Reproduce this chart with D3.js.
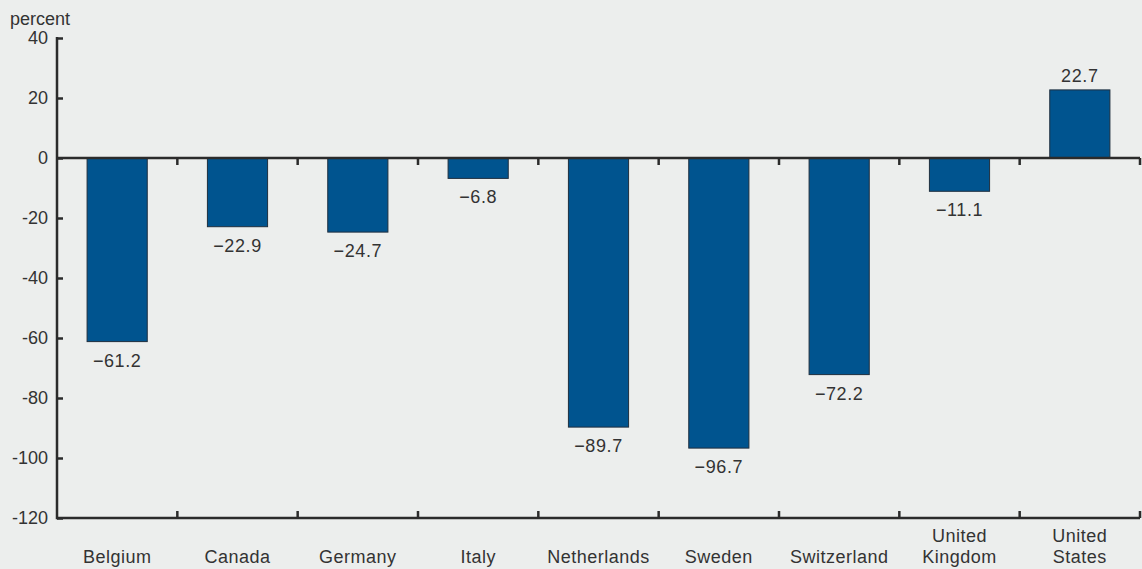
<!DOCTYPE html>
<html>
<head>
<meta charset="utf-8">
<script src="https://cdn.jsdelivr.net/npm/d3@7"></script>
<style>
  html, body { margin: 0; padding: 0; background: #eceeed; }
  svg { display: block; }
  text { font-family: "Liberation Sans", Arial, Helvetica, sans-serif; fill: #333333; }
</style>
</head>
<body>
<svg id="chart" width="1142" height="569"></svg>
<script>
// Change by country, percent
const countries = ["Belgium", "Canada", "Germany", "Italy", "Netherlands", "Sweden", "Switzerland", "United Kingdom", "United States"];
const countryLines = [["Belgium"], ["Canada"], ["Germany"], ["Italy"], ["Netherlands"], ["Sweden"], ["Switzerland"], ["United", "Kingdom"], ["United", "States"]];
const values = [-61.2, -22.9, -24.7, -6.8, -89.7, -96.7, -72.2, -11.1, 22.7];
const yTicks = [40, 20, 0, -20, -40, -60, -80, -100, -120];

const svg = d3.select("#chart");
const plotLeft = 57, plotRight = 1140, plotTop = 38, plotBottom = 518;

const x = d3.scaleBand().domain(countries).range([plotLeft, plotRight]).paddingInner(0).paddingOuter(0);
const y = d3.scaleLinear().domain([-120, 40]).range([plotBottom, plotTop]);
const barW = x.bandwidth() * 0.5;
const ink = "#2b2b2b";
const fontSize = 18;

// Bars
svg.append("g").selectAll("rect")
  .data(countries)
  .join("rect")
  .attr("x", (d) => x(d) + (x.bandwidth() - barW) / 2)
  .attr("width", barW)
  .attr("y", (d, i) => y(Math.max(0, values[i])))
  .attr("height", (d, i) => Math.abs(y(values[i]) - y(0)))
  .attr("fill", "#00548f")
  .attr("stroke", "#1f2f3f")
  .attr("stroke-width", 1);

// Value labels
const fmt = (v) => (v < 0 ? "\u2212" : "") + Math.abs(v).toFixed(1);
svg.append("g").selectAll("text")
  .data(countries)
  .join("text")
  .attr("x", (d) => x(d) + x.bandwidth() / 2)
  .attr("y", (d, i) => values[i] < 0 ? y(values[i]) + 25 : y(values[i]) - 8)
  .attr("text-anchor", "middle")
  .attr("font-size", fontSize)
  .attr("letter-spacing", 0.6)
  .text((d, i) => fmt(values[i]));

// Left axis
const yAxis = svg.append("g")
  .attr("transform", `translate(${plotLeft},0)`)
  .call(d3.axisLeft(y).tickValues(yTicks).tickSize(-6).tickPadding(9).tickFormat((d) => String(d)));
yAxis.select(".domain").remove();
yAxis.selectAll(".tick line").attr("stroke", ink).attr("stroke-width", 2.5);
yAxis.selectAll(".tick text").attr("font-size", fontSize).attr("fill", "#333333")
  .style("font-family", '"Liberation Sans", Arial, sans-serif');
svg.append("line")
  .attr("x1", plotLeft).attr("x2", plotLeft)
  .attr("y1", y(40) - 1).attr("y2", y(-120) + 1.25)
  .attr("stroke", ink).attr("stroke-width", 2.5);

// Zero line with category dividers hanging below it
const bounds = countries.slice(1).map((d) => x(d)).concat([plotRight]);
svg.append("line")
  .attr("x1", plotLeft).attr("x2", plotRight)
  .attr("y1", y(0)).attr("y2", y(0))
  .attr("stroke", ink).attr("stroke-width", 2.5);
svg.append("g").selectAll("line")
  .data(bounds)
  .join("line")
  .attr("x1", (d) => d).attr("x2", (d) => d)
  .attr("y1", y(0)).attr("y2", y(0) + 7)
  .attr("stroke", ink).attr("stroke-width", 2.5);

// Bottom axis with upward dividers
svg.append("line")
  .attr("x1", plotLeft).attr("x2", plotRight)
  .attr("y1", y(-120)).attr("y2", y(-120))
  .attr("stroke", ink).attr("stroke-width", 2.5);
svg.append("g").selectAll("line")
  .data(bounds)
  .join("line")
  .attr("x1", (d) => d).attr("x2", (d) => d)
  .attr("y1", y(-120)).attr("y2", y(-120) - 7)
  .attr("stroke", ink).attr("stroke-width", 2.5);

// Category labels
const catG = svg.append("g").selectAll("text")
  .data(countries)
  .join("text")
  .attr("x", (d) => x(d) + x.bandwidth() / 2)
  .attr("text-anchor", "middle")
  .attr("font-size", fontSize)
  .attr("letter-spacing", 0.5);
catG.each(function (d, i) {
  const lines = countryLines[i];
  const t = d3.select(this);
  lines.forEach((ln, j) => {
    t.append("tspan")
      .attr("x", x(d) + x.bandwidth() / 2)
      .attr("y", 563 - (lines.length - 1 - j) * 21)
      .text(ln);
  });
});

// Unit label
svg.append("text")
  .attr("x", 10).attr("y", 25)
  .attr("font-size", fontSize)
  .text("percent");
</script>
</body>
</html>
